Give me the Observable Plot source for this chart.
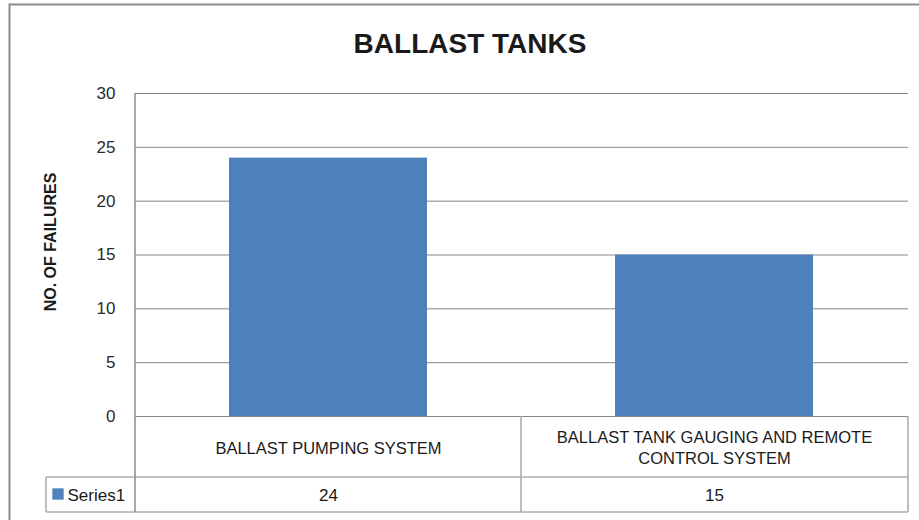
<!DOCTYPE html>
<html>
<head>
<meta charset="utf-8">
<script src="https://cdn.jsdelivr.net/npm/d3@7"></script>
<script src="https://cdn.jsdelivr.net/npm/@observablehq/plot@0.6"></script>
<style>
  html, body { margin: 0; padding: 0; background: #ffffff; }
  #chart svg { display: block; }
</style>
</head>
<body>
<div id="chart"></div>
<script>
// ---- data ----
const categories = ["BALLAST PUMPING SYSTEM", "BALLAST TANK GAUGING AND REMOTE\nCONTROL SYSTEM"];
const values = [24, 15];
const seriesName = "Series1";
const yTicks = [0, 5, 10, 15, 20, 25, 30];
const chartTitle = "BALLAST TANKS";
const yLabel = "NO. OF FAILURES";

// ---- styles ----
const font = "'Liberation Sans', Arial, sans-serif";
const barColor = "#4F81BD";
const gridColor = "#878787";
const tableVColor = "#a8a8a8";
const textColor = "#1a1a1a";

const data = categories.map((c, i) => ({category: c, value: values[i]}));

const plot = Plot.plot({
  width: 919,
  height: 520,
  marginLeft: 135,
  marginRight: 11,
  marginTop: 93,
  marginBottom: 104,
  style: {fontFamily: font, fontSize: "17px", color: textColor, background: "#ffffff", overflow: "visible"},
  x: {domain: categories, paddingInner: 0.487, paddingOuter: 0.2435, axis: null},
  y: {domain: [0, 30], axis: null},
  marks: [
    Plot.ruleY(yTicks, {stroke: gridColor, strokeWidth: 1}),
    Plot.barY(data, {x: "category", y: "value", fill: barColor}),
    // y tick labels
    Plot.text(yTicks, {y: d => d, text: d => String(d), frameAnchor: "left", dx: -20, textAnchor: "end", lineAnchor: "middle", fontSize: 17, fill: "#2a2a2a"}),
    // y axis title
    Plot.text([yLabel], {frameAnchor: "left", rotate: -90, dx: -85, dy: -13, textAnchor: "middle", fontWeight: "bold", fontSize: 16, lineAnchor: "middle", fill: textColor}),
    // chart title
    Plot.text([chartTitle], {frameAnchor: "top", dx: -52, dy: -49.3, textAnchor: "middle", fontWeight: "bold", fontSize: 28, lineAnchor: "middle", fill: "#1a1a1a"}),
    // data table: category row
    Plot.text(data, {x: "category", y: () => 0, text: "category", dy: 30.5, lineAnchor: "middle", lineHeight: 1.27, fontSize: 16.5, fill: textColor}),
    // data table: values row
    Plot.text(data, {x: "category", y: () => 0, text: d => String(d.value), dy: 79.5, lineAnchor: "middle", fontSize: 17, fill: textColor}),
    // legend key in table
    Plot.dot([seriesName], {y: () => 0, frameAnchor: "left", dx: -77.5, dy: 77.5, symbol: "square", r: 6.4, fill: barColor, stroke: null}),
    Plot.text([seriesName], {y: () => 0, text: d => d, frameAnchor: "left", dx: -68, dy: 79.5, textAnchor: "start", lineAnchor: "middle", fontSize: 17, fill: textColor})
  ]
});

// ---- table grid and chart border, positioned from the plot's scales ----
const svg = d3.select(plot);
const xs = plot.scale("x");
const ys = plot.scale("y");
const [xL, xR] = xs.range;
const y0 = ys.apply(0);
const yTop = ys.apply(30);
const centers = categories.map(c => xs.apply(c) + xs.bandwidth / 2);
const xMid = (centers[0] + centers[1]) / 2;
const row1 = y0 + 61;
const row2 = y0 + 96;
const legendLeft = xL - 89;

const g = svg.append("g").attr("fill", "none");
function line(x1, y1, x2, y2, color, w) {
  g.append("line").attr("x1", x1).attr("y1", y1).attr("x2", x2).attr("y2", y2)
    .attr("stroke", color).attr("stroke-width", w);
}
// horizontal table lines
line(legendLeft, row1, xR, row1, gridColor, 1);
line(legendLeft, row2, xR, row2, gridColor, 1);
// vertical lines
line(xL, yTop, xL, row2, "#8c8c8c", 1.5);
line(xMid, y0, xMid, row2, tableVColor, 1.5);
line(xR, y0, xR, row2, tableVColor, 1.5);
line(legendLeft, row1, legendLeft, row2, tableVColor, 1.5);
// outer chart border (top and left visible)
line(9.5, 4.5, 919, 4.5, "#8c8c8c", 2);
line(9.5, 3.5, 9.5, 520, "#8c8c8c", 2);

document.getElementById("chart").appendChild(plot);
</script>
</body>
</html>
